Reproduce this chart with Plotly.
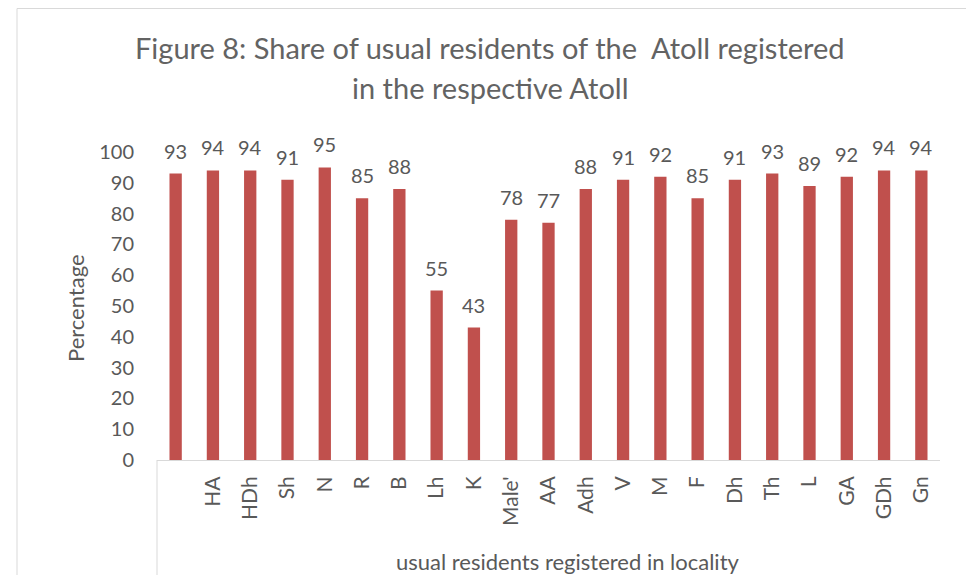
import plotly.graph_objects as go

categories = [" ", "HA", "HDh", "Sh", "N", "R", "B", "Lh", "K", "Male'", "AA",
              "Adh", "V", "M", "F", "Dh", "Th", "L", "GA", "GDh", "Gn"]
values = [93, 94, 94, 91, 95, 85, 88, 55, 43, 78, 77,
          88, 91, 92, 85, 91, 93, 89, 92, 94, 94]
y_ticks = [0, 10, 20, 30, 40, 50, 60, 70, 80, 90, 100]

W, H = 974, 575
OFF = 8  # page body margin offset
L, R, T, B = 157 - OFF, 974 - 940 + OFF, 152 - OFF, 575 - 460 + OFF
pw, ph = W - L - R, H - T - B


def px(x):  # reference screen x -> paper
    return (x - OFF - L) / pw


def py(y):  # reference screen y -> paper
    return (H - B - (y - OFF)) / ph


gray = "#595959"
font = "Lato"

fig = go.Figure(go.Bar(
    x=categories, y=values,
    marker=dict(color="#C0504D", line=dict(width=0)),
    width=0.33, hoverinfo="x+y",
))

annotations = [
    dict(text=str(v), x=c, y=v, xref="x", yref="y", showarrow=False,
         xanchor="center", yanchor="bottom", yshift=9,
         font=dict(family=font, size=20, color=gray))
    for c, v in zip(categories, values)
]
annotations += [
    dict(text="Figure 8: Share of usual residents of the  Atoll registered",
         xref="paper", yref="paper", x=px(490), y=py(47), xanchor="center", yanchor="middle",
         showarrow=False, font=dict(family=font, size=29, color="#636363")),
    dict(text="in the respective Atoll",
         xref="paper", yref="paper", x=px(490), y=py(88), xanchor="center", yanchor="middle",
         showarrow=False, font=dict(family=font, size=29, color="#636363")),
    dict(text="Percentage", textangle=-90,
         xref="paper", yref="paper", x=px(75), y=py(308), xanchor="center", yanchor="middle",
         showarrow=False, font=dict(family=font, size=22, color=gray)),
    dict(text="usual residents registered in locality",
         xref="paper", yref="paper", x=px(568), y=py(561), xanchor="center", yanchor="middle",
         showarrow=False, font=dict(family=font, size=22, color=gray)),
]

fig.update_layout(
    width=W, height=H,
    margin=dict(l=L, r=R, t=T, b=B),
    paper_bgcolor="white", plot_bgcolor="white",
    showlegend=False,
    font=dict(family=font, color=gray),
    xaxis=dict(type="category", tickangle=-90, showgrid=False,
               showline=True, linecolor="#d9d9d9", linewidth=1,
               ticks="", ticklabelstandoff=7,
               tickfont=dict(family=font, size=21, color=gray),
               range=[-0.5, len(categories) - 0.5]),
    yaxis=dict(range=[0, 100], tickvals=y_ticks, showgrid=False,
               showline=False, zeroline=False, ticks="", ticklabelstandoff=22,
               tickfont=dict(family=font, size=20, color=gray)),
    shapes=[
        dict(type="rect", xref="paper", yref="paper",
             x0=px(17), x1=px(970), y0=py(620), y1=py(8.5),
             line=dict(color="#d9d9d9", width=1), fillcolor="rgba(0,0,0,0)", layer="below"),
        dict(type="line", xref="paper", yref="paper",
             x0=0, x1=0, y0=0, y1=py(620),
             line=dict(color="#d9d9d9", width=1)),
    ],
    annotations=annotations,
)

fig.write_html("out.html")
